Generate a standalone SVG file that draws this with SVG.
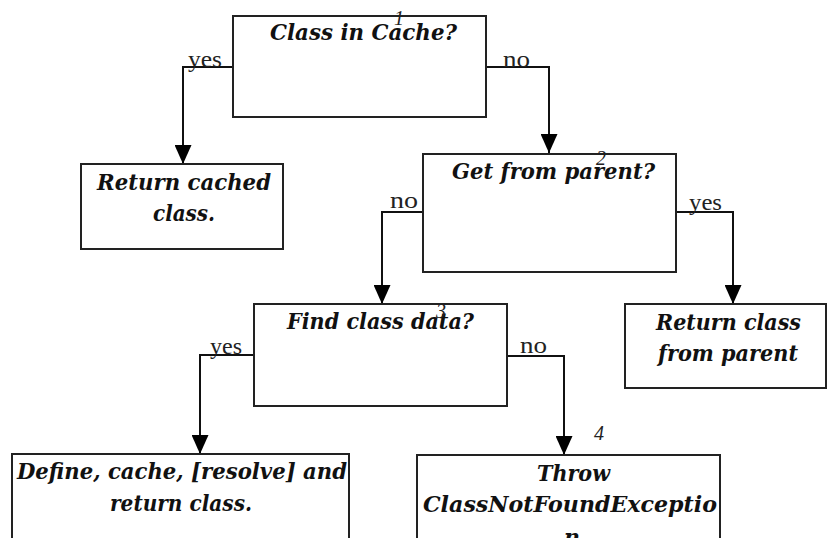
<svg xmlns="http://www.w3.org/2000/svg" width="827" height="538" viewBox="0 0 827 538">
<style>
.box{fill:#fff;stroke:#222;stroke-width:2}
.t{font-family:"DejaVu Serif","Liberation Serif",serif;font-weight:bold;font-style:italic;font-size:22px;fill:#111}
.lab{font-family:"Liberation Serif","Times New Roman",serif;font-size:24px;fill:#222}
.num{font-family:"Liberation Serif","Times New Roman",serif;font-style:italic;font-size:20px;fill:#222}
.c{fill:none;stroke:#111;stroke-width:2}
</style>
<defs>
<marker id="ah" viewBox="0 0 19 17" refX="19" refY="8.5" markerWidth="19" markerHeight="17" markerUnits="userSpaceOnUse" orient="auto">
<path d="M0,0 L19,8.5 L0,17 Z" fill="#000"/>
</marker>
</defs>
<rect width="827" height="538" fill="#fff"/>
<g id="connectors">
<path class="c" d="M233,67 H183 V164" marker-end="url(#ah)"/>
<path class="c" d="M486,67 H549 V153" marker-end="url(#ah)"/>
<path class="c" d="M427,212 H382 V304" marker-end="url(#ah)"/>
<path class="c" d="M676,212 H733 V304" marker-end="url(#ah)"/>
<path class="c" d="M261,355 H200 V454" marker-end="url(#ah)"/>
<path class="c" d="M507,356 H564 V455" marker-end="url(#ah)"/>
<text class="lab" x="188" y="67" textLength="34" lengthAdjust="spacingAndGlyphs">yes</text>
<text class="lab" x="503" y="67" textLength="27" lengthAdjust="spacingAndGlyphs">no</text>
<text class="lab" x="390" y="208" textLength="28" lengthAdjust="spacingAndGlyphs">no</text>
<text class="lab" x="689" y="210" textLength="33" lengthAdjust="spacingAndGlyphs">yes</text>
<text class="lab" x="210" y="354" textLength="32" lengthAdjust="spacingAndGlyphs">yes</text>
<text class="lab" x="520" y="353" textLength="27" lengthAdjust="spacingAndGlyphs">no</text>
</g>
<g id="n1">
<rect class="box" x="233" y="16" width="253" height="101"/>
<text class="t" x="270" y="40" textLength="187" lengthAdjust="spacingAndGlyphs">Class in Cache?</text>
<text class="num" x="394" y="25">1</text>
</g>
<g id="n2">
<rect class="box" x="81" y="164" width="202" height="85"/>
<text class="t" x="97" y="190" textLength="174" lengthAdjust="spacingAndGlyphs">Return cached</text>
<text class="t" x="153" y="221" textLength="62" lengthAdjust="spacingAndGlyphs">class.</text>
</g>
<g id="n3">
<rect class="box" x="423" y="154" width="253" height="118"/>
<text class="t" x="452" y="179" textLength="203" lengthAdjust="spacingAndGlyphs">Get from parent?</text>
<text class="num" x="596" y="165">2</text>
</g>
<g id="n4">
<rect class="box" x="254" y="304" width="253" height="102"/>
<text class="t" x="287" y="329" textLength="187" lengthAdjust="spacingAndGlyphs">Find class data?</text>
<text class="num" x="436" y="318">3</text>
</g>
<g id="n5">
<rect class="box" x="625" y="304" width="201" height="84"/>
<text class="t" x="656" y="330" textLength="145" lengthAdjust="spacingAndGlyphs">Return class</text>
<text class="t" x="658" y="361" textLength="140" lengthAdjust="spacingAndGlyphs">from parent</text>
</g>
<g id="n6">
<rect class="box" x="12" y="454" width="337" height="120"/>
<text class="t" x="17" y="479" textLength="330" lengthAdjust="spacingAndGlyphs">Define, cache, [resolve] and</text>
<text class="t" x="110" y="511" textLength="142" lengthAdjust="spacingAndGlyphs">return class.</text>
</g>
<g id="n7">
<rect class="box" x="417" y="455" width="303" height="120"/>
<text class="num" x="594" y="440">4</text>
<text class="t" x="537" y="481" textLength="73" lengthAdjust="spacingAndGlyphs">Throw</text>
<text class="t" x="423" y="512" textLength="294" lengthAdjust="spacingAndGlyphs">ClassNotFoundExceptio</text>
<text class="t" x="564" y="545">n</text>
</g>
</svg>
